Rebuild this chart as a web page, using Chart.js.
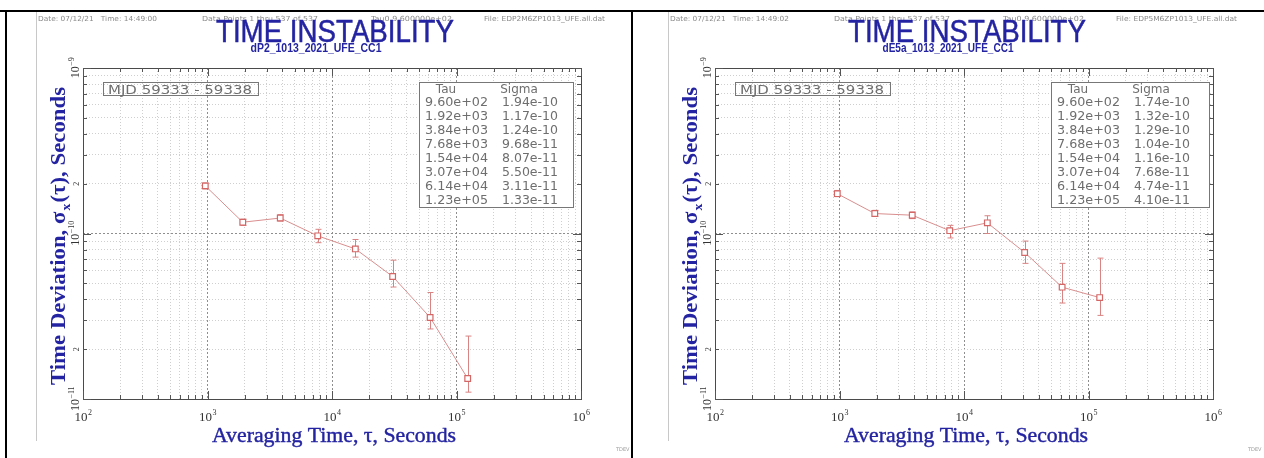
<!DOCTYPE html>
<html>
<head>
<meta charset="utf-8">
<title>Time Instability</title>
<script src="https://cdn.jsdelivr.net/npm/chart.js@4.4.0/dist/chart.umd.min.js"></script>
<style>
  html, body { margin: 0; padding: 0; background: #fff; }
  #wrap { position: relative; width: 1264px; height: 458px; overflow: hidden; background: #fff; }
  .cell { position: absolute; top: 0; width: 632px; height: 458px; }
  canvas { display: block; }
  .rule { position: absolute; background: #000; }
</style>
</head>
<body>
<div id="wrap">
  <div class="cell" style="left:0"><canvas id="panelA" width="632" height="458"></canvas></div>
  <div class="cell" style="left:632px"><canvas id="panelB" width="632" height="458"></canvas></div>
  <div class="rule" style="left:0;top:10px;width:1264px;height:2px"></div>
  <div class="rule" style="left:5px;top:10px;width:2px;height:448px"></div>
  <div class="rule" style="left:631px;top:10px;width:2px;height:448px"></div>
</div>
<script>
// ---- data ----
const tau = [960, 1920, 3840, 7680, 15400, 30700, 61400, 123000];

const sigmaP2     = [1.94e-10, 1.17e-10, 1.24e-10, 9.68e-11, 8.07e-11, 5.50e-11, 3.11e-11, 1.33e-11];
const sigmaP2Low  = [1.86e-10, 1.12e-10, 1.19e-10, 8.80e-11, 7.20e-11, 4.75e-11, 2.65e-11, 1.10e-11];
const sigmaP2High = [2.02e-10, 1.22e-10, 1.30e-10, 1.06e-10, 9.20e-11, 6.90e-11, 4.40e-11, 2.40e-11];

const sigmaE5a     = [1.74e-10, 1.32e-10, 1.29e-10, 1.04e-10, 1.16e-10, 7.68e-11, 4.74e-11, 4.10e-11];
const sigmaE5aLow  = [1.67e-10, 1.27e-10, 1.23e-10, 9.40e-11, 1.00e-10, 6.60e-11, 3.80e-11, 3.20e-11];
const sigmaE5aHigh = [1.82e-10, 1.38e-10, 1.35e-10, 1.12e-10, 1.28e-10, 9.00e-11, 6.60e-11, 7.10e-11];

const xDecades = [2, 3, 4, 5, 6];          // tick labels 10^2 ... 10^6
const yDecades = [-9, -10, -11];           // tick labels 10^-9 ... 10^-11
const yExtraLabels = [2e-10, 2e-11];       // labelled "2"

const mjdText = 'MJD 59333 - 59338';
const mainTitle = 'TIME INSTABILITY';

// ---- helpers ----
function sci(v) {
  const parts = v.toExponential(2).split('e');
  const sign = parts[1][0] === '-' ? '-' : '+';
  let d = parts[1].replace(/[+-]/, '');
  if (d.length < 2) d = '0' + d;
  return parts[0] + 'e' + sign + d;
}

function logTicks(lo, hi) {
  const out = [];
  for (let e = lo; e < hi; e++) {
    for (let m = 1; m <= 9; m++) out.push({ value: m * Math.pow(10, e) });
  }
  out.push({ value: Math.pow(10, hi) });
  return out;
}

function isDecade(v) {
  const l = Math.log10(v);
  return Math.abs(l - Math.round(l)) < 1e-6;
}

// text squeezed/stretched to a given width; optional outline for a heavier look
function fitText(ctx, text, x, y, width, align, heavy) {
  const w = ctx.measureText(text).width;
  const s = width / w;
  ctx.save();
  let x0 = x;
  if (align === 'center') x0 = x - width / 2;
  else if (align === 'right') x0 = x - width;
  ctx.translate(x0, y);
  ctx.scale(s, 1);
  ctx.textAlign = 'left';
  ctx.fillText(text, 0, 0);
  if (heavy) {
    ctx.strokeStyle = ctx.fillStyle;
    ctx.lineWidth = heavy;
    ctx.lineJoin = 'round';
    ctx.strokeText(text, 0, 0);
  }
  ctx.restore();
}

// draws "10" with a raised exponent, centred on (cx, baseline)
function powerLabel(ctx, exp, cx, by, baseSize, expSize, color) {
  ctx.save();
  ctx.fillStyle = color;
  ctx.font = baseSize + 'px "Liberation Serif", "DejaVu Serif", serif';
  const wb = ctx.measureText('10').width;
  ctx.font = expSize + 'px "Liberation Serif", "DejaVu Serif", serif';
  const es = String(exp).replace('-', '\u2212');
  const we = ctx.measureText(es).width;
  const x0 = cx - (wb + we) / 2;
  ctx.textAlign = 'left';
  ctx.textBaseline = 'alphabetic';
  ctx.font = baseSize + 'px "Liberation Serif", "DejaVu Serif", serif';
  ctx.fillText('10', x0, by);
  ctx.font = expSize + 'px "Liberation Serif", "DejaVu Serif", serif';
  ctx.fillText(es, x0 + wb + 0.5, by - baseSize * 0.45);
  ctx.restore();
}

const BLUE = '#2424a2';

// error bars drawn from the low/high arrays through the chart scales
const errorBarPlugin = {
  id: 'errorBars',
  beforeDatasetsDraw(chart, args, opts) {
    const { ctx, scales: { x, y } } = chart;
    ctx.save();
    ctx.strokeStyle = opts.color;
    ctx.lineWidth = 1;
    opts.low.forEach((lo, i) => {
      const px = Math.round(x.getPixelForValue(opts.tau[i])) + 0.5;
      const y1 = y.getPixelForValue(lo);
      const y2 = y.getPixelForValue(opts.high[i]);
      ctx.beginPath();
      ctx.moveTo(px, y1); ctx.lineTo(px, y2);
      ctx.moveTo(px - 3, y1); ctx.lineTo(px + 3, y1);
      ctx.moveTo(px - 3, y2); ctx.lineTo(px + 3, y2);
      ctx.stroke();
    });
    ctx.restore();
  }
};

// frame, inward ticks, titles, axis labels, boxes
const decorPlugin = {
  id: 'decor',
  afterDraw(chart, args, o) {
    const { ctx, chartArea: a, scales: { x, y } } = chart;
    ctx.save();

    // image edge line
    ctx.strokeStyle = '#c8c8c8';
    ctx.lineWidth = 1;
    ctx.beginPath(); ctx.moveTo(36.5, 12); ctx.lineTo(36.5, 441); ctx.stroke();

    // frame
    ctx.strokeStyle = '#4a4a4a';
    ctx.strokeRect(Math.round(a.left) + 0.5, Math.round(a.top) + 0.5,
                   Math.round(a.right - a.left), Math.round(a.bottom - a.top));

    // inward tick marks on all four sides
    ctx.strokeStyle = '#555';
    ctx.beginPath();
    x.ticks.forEach(t => {
      const px = Math.round(x.getPixelForValue(t.value)) + 0.5;
      const len = isDecade(t.value) ? 8 : 4;
      ctx.moveTo(px, a.top); ctx.lineTo(px, a.top + len);
      ctx.moveTo(px, a.bottom); ctx.lineTo(px, a.bottom - len);
    });
    y.ticks.forEach(t => {
      const py = Math.round(y.getPixelForValue(t.value)) + 0.5;
      const len = isDecade(t.value) ? 8 : 4;
      ctx.moveTo(a.left, py); ctx.lineTo(a.left + len, py);
      ctx.moveTo(a.right, py); ctx.lineTo(a.right - len, py);
    });
    ctx.stroke();

    // header line of run information
    ctx.fillStyle = '#8a8a8a';
    ctx.font = '7px "DejaVu Sans", sans-serif';
    ctx.textBaseline = 'alphabetic';
    o.header.forEach(h => fitText(ctx, h.text, h.x, 21, h.w, 'left'));

    // titles
    ctx.fillStyle = BLUE;
    ctx.font = '31px "Liberation Sans", Arial, sans-serif';
    fitText(ctx, mainTitle, 335, 42, 238, 'center', 0.5);
    ctx.font = 'bold 12px "Liberation Sans", Arial, sans-serif';
    fitText(ctx, o.subtitle, 316, 52, 131, 'center');

    // x tick labels
    xDecades.forEach(e => {
      const px = x.getPixelForValue(Math.pow(10, e));
      powerLabel(ctx, e, px, 421, 13, 8, '#333');
    });

    // y tick labels, rotated
    yDecades.forEach(e => {
      const py = y.getPixelForValue(Math.pow(10, e));
      ctx.save();
      ctx.translate(79, py);
      ctx.rotate(-Math.PI / 2);
      powerLabel(ctx, e, 0, 0, 12, 8, '#333');
      ctx.restore();
    });
    yExtraLabels.forEach(v => {
      const py = y.getPixelForValue(v);
      ctx.save();
      ctx.translate(79, py);
      ctx.rotate(-Math.PI / 2);
      ctx.fillStyle = '#333';
      ctx.font = '8px "Liberation Serif", serif';
      ctx.textAlign = 'center';
      ctx.fillText('2', 0, 0);
      ctx.restore();
    });

    // x axis title
    ctx.fillStyle = BLUE;
    ctx.font = '20px "Liberation Serif", "DejaVu Serif", serif';
    fitText(ctx, 'Averaging Time, \u03c4, Seconds', 334, 442, 244, 'center', 0.4);

    // y axis title with subscript
    ctx.save();
    ctx.translate(65, 236);
    ctx.rotate(-Math.PI / 2);
    const f1 = 'bold 20px "Liberation Serif", "DejaVu Serif", serif';
    const f2 = 'bold 12px "Liberation Serif", "DejaVu Serif", serif';
    const p1 = 'Time Deviation, \u03c3', p2 = 'x', p3 = '(\u03c4), Seconds';
    ctx.font = f1; const w1 = ctx.measureText(p1).width; const w3 = ctx.measureText(p3).width;
    ctx.font = f2; const w2 = ctx.measureText(p2).width;
    const total = w1 + w2 + 2 + w3;
    const s = 298 / total;
    ctx.scale(s, 1);
    let cx = -total / 2;
    ctx.fillStyle = BLUE;
    ctx.textAlign = 'left';
    ctx.font = f1; ctx.fillText(p1, cx, 0); cx += w1;
    ctx.font = f2; ctx.fillText(p2, cx + 1, 5); cx += w2 + 2;
    ctx.font = f1; ctx.fillText(p3, cx, 0);
    ctx.restore();

    // MJD box
    ctx.strokeStyle = '#777';
    ctx.lineWidth = 1;
    ctx.strokeRect(103.5, 82.5, 155, 13);
    ctx.fillStyle = '#6e6e6e';
    ctx.font = '12px "DejaVu Sans", sans-serif';
    fitText(ctx, mjdText, 108, 94, 144, 'left');

    // Tau / Sigma table
    ctx.fillStyle = '#fff';
    ctx.fillRect(419.5, 82.5, o.boxW, 125);
    ctx.strokeRect(419.5, 82.5, o.boxW, 125);
    ctx.fillStyle = '#6e6e6e';
    ctx.font = '12px "DejaVu Sans", sans-serif';
    ctx.textAlign = 'center';
    ctx.fillText('Tau', 446, 93);
    ctx.fillText('Sigma', 519, 93);
    ctx.textAlign = 'left';
    tau.forEach((t, i) => {
      const by = 106 + i * 14;
      fitText(ctx, sci(t), 425, by, 63, 'left');
      fitText(ctx, sci(o.sigma[i]), 502, by, 56, 'left');
    });

    // small plot id, bottom right
    ctx.fillStyle = '#9a9a9a';
    ctx.font = '5px "DejaVu Sans", sans-serif';
    ctx.fillText('TDEV', 616, 451);

    ctx.restore();
  }
};

function makePanel(id, subtitle, sigma, low, high, header, boxW) {
  const points = tau.map((t, i) => ({ x: t, y: sigma[i] }));
  const gridColor = c => (c.tick && isDecade(c.tick.value)) ? '#8e8e8e' : '#cfcfcf';
  const gridDash = c => (c.tick && isDecade(c.tick.value)) ? [2, 2] : [1, 2];
  return new Chart(document.getElementById(id), {
    type: 'line',
    data: {
      datasets: [{
        data: points,
        borderColor: '#d98e8e',
        borderWidth: 1,
        pointStyle: 'rect',
        pointRadius: 4,
        pointBorderColor: '#d46666',
        pointBackgroundColor: '#fff',
        pointBorderWidth: 1.2,
        tension: 0
      }]
    },
    options: {
      responsive: false,
      animation: false,
      devicePixelRatio: 1,
      layout: { padding: { left: 83, right: 51, top: 68, bottom: 59 } },
      plugins: {
        legend: { display: false },
        tooltip: { enabled: false },
        errorBars: { tau: tau, low: low, high: high, color: '#d98383' },
        decor: { subtitle: subtitle, sigma: sigma, header: header, boxW: boxW }
      },
      scales: {
        x: {
          type: 'logarithmic', min: 1e2, max: 1e6,
          afterBuildTicks: s => { s.ticks = logTicks(2, 6); },
          ticks: { display: false, autoSkip: false },
          grid: { drawTicks: false, color: gridColor, lineWidth: 1 },
          border: { display: false, dash: gridDash }
        },
        y: {
          type: 'logarithmic', min: 1e-11, max: 1e-9,
          afterBuildTicks: s => { s.ticks = logTicks(-11, -9); },
          ticks: { display: false, autoSkip: false },
          grid: { drawTicks: false, color: gridColor, lineWidth: 1 },
          border: { display: false, dash: gridDash }
        }
      }
    },
    plugins: [errorBarPlugin, decorPlugin]
  });
}

makePanel('panelA', 'dP2_1013_2021_UFE_CC1', sigmaP2, sigmaP2Low, sigmaP2High, [
  { text: 'Date: 07/12/21   Time: 14:49:00', x: 38, w: 119 },
  { text: 'Data Points 1 thru 537 of 537', x: 202, w: 116 },
  { text: 'Tau0 9.600000e+02', x: 371, w: 81 },
  { text: 'File: EDP2M6ZP1013_UFE.all.dat', x: 484, w: 121 }
], 154);

makePanel('panelB', 'dE5a_1013_2021_UFE_CC1', sigmaE5a, sigmaE5aLow, sigmaE5aHigh, [
  { text: 'Date: 07/12/21   Time: 14:49:02', x: 38, w: 119 },
  { text: 'Data Points 1 thru 537 of 537', x: 202, w: 116 },
  { text: 'Tau0 9.600000e+02', x: 371, w: 81 },
  { text: 'File: EDP5M6ZP1013_UFE.all.dat', x: 484, w: 121 }
], 158);
</script>
</body>
</html>
